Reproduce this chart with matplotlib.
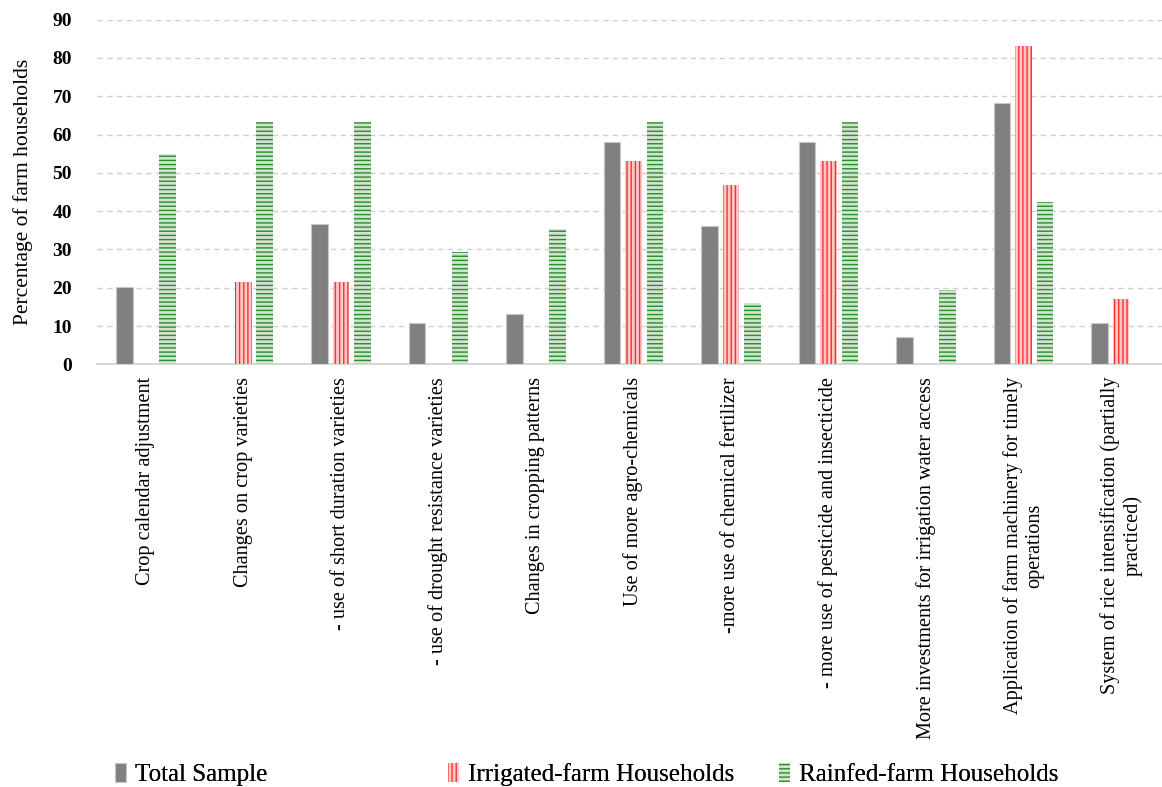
import numpy as np
import matplotlib.pyplot as plt

plt.rcParams['font.family'] = ['Liberation Serif', 'DejaVu Serif']
plt.rcParams['hatch.linewidth'] = 1.0

categories = [
    "Crop calendar adjustment",
    "Changes on crop varieties",
    "- use of short duration varieties",
    "- use of drought resistance varieties",
    "Changes in cropping patterns",
    "Use of more agro-chemicals",
    "-more use of chemical fertilizer",
    "- more use of pesticide and insecticide",
    "More investments for irrigation water access",
    "Application of farm machinery for timely\noperations",
    "System of rice intensification (partially\npracticed)",
]
total = [20.1, 0, 36.6, 10.8, 13.1, 58.1, 36.2, 58.1, 7.2, 68.3, 10.8]
irrigated = [0, 21.5, 21.5, 0, 0, 53.1, 46.9, 53.1, 0, 83.1, 17.0]
rainfed = [55.0, 63.4, 63.4, 29.3, 35.3, 63.4, 16.0, 63.4, 19.4, 42.4, 0]

x = np.arange(len(categories))
w = 0.17
step = 0.22

fig, ax = plt.subplots(figsize=(11.62, 7.87), dpi=100)
fig.subplots_adjust(left=0.0835, right=1.0, top=0.975, bottom=0.537)

b1 = ax.bar(x - step, total, w, color='#808080', edgecolor='#c8c8c8', linewidth=0.8,
            label='Total Sample', zorder=3)
b2 = ax.bar(x, irrigated, w, color='#ffc8c8', edgecolor='#ff3030', hatch='||||',
            linewidth=0, label='Irrigated-farm Households', zorder=3)
b3 = ax.bar(x + step, rainfed, w, color='#cfe5cf', edgecolor='#2e8b2e', hatch='----',
            linewidth=0, label='Rainfed-farm Households', zorder=3)

ax.set_ylim(0, 90)
ax.set_yticks(range(0, 91, 10))
ax.set_xlim(-0.5, 10.42)
ax.yaxis.grid(True, linestyle=(0, (4, 3)), color='#d0d0d0', linewidth=1, zorder=0)
for s in ['top', 'right', 'left']:
    ax.spines[s].set_visible(False)
ax.spines['bottom'].set_color('#d0d0d0')
ax.spines['bottom'].set_linewidth(1.2)
ax.tick_params(length=0)
ax.tick_params(axis='y', pad=18)
ax.tick_params(axis='x', pad=9)
for lbl in ax.get_yticklabels():
    lbl.set_fontweight('bold')
    lbl.set_fontsize(14)

ax.set_xticks(x)
ax.set_xticklabels(categories, rotation=90, fontsize=14.6, va='top', ha='center',
                   multialignment='center')
ax.set_ylabel('Percentage of farm households', fontsize=15.5, labelpad=14)

# three legend entries, placed like the original's fixed-width columns
starts = [0.090, 0.377, 0.662]
for bars, sx in zip([b1, b2, b3], starts):
    leg = fig.legend(handles=[bars], loc='lower left', frameon=False,
                     bbox_to_anchor=(sx, -0.012), fontsize=18, handlelength=0.45,
                     handleheight=0.8, handletextpad=0.35, borderaxespad=0)
    fig.add_artist(leg)

fig.savefig('out.png')
